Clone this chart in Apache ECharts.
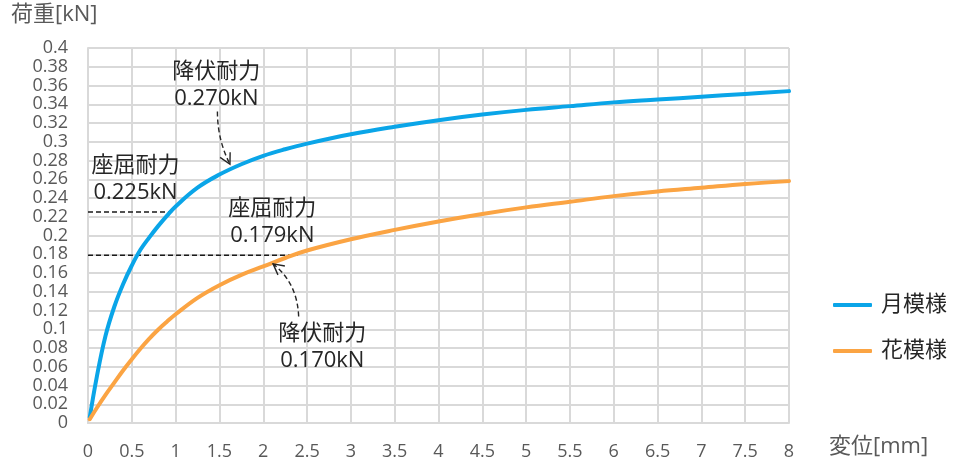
<!DOCTYPE html>
<html>
<head>
<meta charset="utf-8">
<script src="https://cdn.jsdelivr.net/npm/echarts@6/dist/echarts.min.js"></script>
<style>
  html, body { margin: 0; padding: 0; background: #ffffff; }
  #chart { width: 954px; height: 468px; }
</style>
</head>
<body>
<div id="chart"></div>
<script>
// Load–displacement curves for two specimens
const displacement = [0.02, 0.1, 0.2, 0.3, 0.4, 0.5, 0.6, 0.7, 0.8, 0.9, 1.0, 1.25, 1.5, 1.75, 2, 2.25, 2.5, 3, 3.5, 4, 4.5, 5, 5.5, 6, 6.5, 7, 7.5, 8];
const moonLoad   = [0.006, 0.049, 0.093, 0.124, 0.148, 0.168, 0.185, 0.198, 0.210, 0.221, 0.231, 0.251, 0.265, 0.276, 0.285, 0.292, 0.298, 0.308, 0.316, 0.323, 0.329, 0.334, 0.338, 0.342, 0.345, 0.348, 0.351, 0.354];
const flowerLoad = [0.004, 0.016, 0.030, 0.043, 0.056, 0.068, 0.0795, 0.090, 0.0995, 0.108, 0.116, 0.1335, 0.147, 0.158, 0.167, 0.176, 0.184, 0.196, 0.206, 0.215, 0.223, 0.230, 0.236, 0.242, 0.247, 0.251, 0.255, 0.258];

const seriesNames = ['月模様', '花模様'];
const seriesColors = ['#0AA5E8', '#FBA443'];

// Buckling strength guide lines: load level and where the dashed line meets the curve
const bucklingLoad = [0.225, 0.179];
const bucklingReach = [0.96, 2.39];

// Annotation texts, their anchor (data coords) and arrows (tail, control, tip in data coords)
const noteTexts = ['降伏耐力\n0.270kN', '座屈耐力\n0.225kN', '座屈耐力\n0.179kN', '降伏耐力\n0.170kN'];
const noteAnchors = [[1.465, 0.3603], [0.542, 0.2605], [2.104, 0.2141], [2.674, 0.0811]];
const arrowPaths = [
  [[1.477, 0.3323], [1.477, 0.3021], [1.62, 0.276]],
  [[2.404, 0.1135], [2.389, 0.1495], [2.112, 0.1697]]
];

const FONT = "'Open Sans', 'Noto Sans CJK JP', sans-serif";
const TICK_COLOR = '#595959';
const GRID_COLOR = '#d9d9d9';
const INK = '#262626';

const chart = echarts.init(document.getElementById('chart'), null, { renderer: 'canvas' });

const pairs = (xs, ys) => xs.map((x, i) => [x, ys[i]]);

const guideSeries = bucklingLoad.map((y, i) => ({
  type: 'line',
  silent: true,
  symbol: 'none',
  data: [[0, y], [bucklingReach[i], y]],
  lineStyle: { color: '#1a1a1a', width: 1.5, type: [5, 3] },
  z: 1
}));

const curve = (i, values) => ({
  name: seriesNames[i],
  type: 'line',
  symbol: 'none',
  smooth: 0.4,
  data: pairs(displacement, values),
  lineStyle: { color: seriesColors[i], width: 4, cap: 'round' },
  itemStyle: { color: seriesColors[i] },
  z: 3
});

chart.setOption({
  animation: false,
  backgroundColor: '#ffffff',
  grid: { left: 88, right: 165, top: 48, bottom: 45 },
  legend: {
    orient: 'vertical',
    left: 828,
    top: 289,
    itemWidth: 39,
    itemHeight: 4,
    itemGap: 24,
    icon: 'roundRect',
    data: seriesNames,
    textStyle: { fontFamily: FONT, fontSize: 22, color: INK, padding: [0, 0, 0, 4] }
  },
  xAxis: {
    type: 'value',
    min: 0,
    max: 8,
    interval: 0.5,
    axisLine: { show: true, lineStyle: { color: GRID_COLOR, width: 2 } },
    axisTick: { show: false },
    splitLine: { show: true, lineStyle: { color: GRID_COLOR, width: 2 } },
    axisLabel: { fontFamily: FONT, fontSize: 18, color: TICK_COLOR, margin: 20 }
  },
  yAxis: {
    type: 'value',
    min: 0,
    max: 0.4,
    interval: 0.02,
    axisLine: { show: true, lineStyle: { color: GRID_COLOR, width: 2 } },
    axisTick: { show: false },
    splitLine: { show: true, lineStyle: { color: GRID_COLOR, width: 2 } },
    axisLabel: {
      fontFamily: FONT, fontSize: 18, color: TICK_COLOR, margin: 20,
      formatter: v => String(parseFloat(v.toFixed(2)))
    }
  },
  series: guideSeries.concat([curve(0, moonLoad), curve(1, flowerLoad)])
});

// Annotations placed through the axes' own scales
const toPx = p => chart.convertToPixel({ xAxisIndex: 0, yAxisIndex: 0 }, p);
const graphics = [];

graphics.push({
  type: 'text', left: 11, top: 4,
  style: { text: '荷重[kN]', fontFamily: FONT, fontSize: 22, fill: TICK_COLOR }
});
graphics.push({
  type: 'text', left: 829, top: 436,
  style: { text: '変位[mm]', fontFamily: FONT, fontSize: 22, fill: TICK_COLOR }
});

noteTexts.forEach((t, i) => {
  const p = toPx(noteAnchors[i]);
  graphics.push({
    type: 'text', x: p[0], y: p[1], z: 10,
    style: {
      text: t, fontFamily: FONT, fontSize: 22, fill: INK,
      align: 'center', verticalAlign: 'middle', lineHeight: 27
    }
  });
});

arrowPaths.forEach(path => {
  const a = toPx(path[0]), c = toPx(path[1]), b = toPx(path[2]);
  graphics.push({
    type: 'bezierCurve', z: 10,
    shape: { x1: a[0], y1: a[1], cpx1: c[0], cpy1: c[1], x2: b[0], y2: b[1] },
    style: { stroke: INK, lineWidth: 1.4, lineDash: [5, 3], fill: null }
  });
  const dx = b[0] - c[0], dy = b[1] - c[1];
  const len = Math.hypot(dx, dy);
  const ux = -dx / len, uy = -dy / len;
  const ang = 28 * Math.PI / 180, arm = 12;
  const rot = s => [
    b[0] + arm * (ux * Math.cos(s * ang) - uy * Math.sin(s * ang)),
    b[1] + arm * (ux * Math.sin(s * ang) + uy * Math.cos(s * ang))
  ];
  graphics.push({
    type: 'polyline', z: 10,
    shape: { points: [rot(1), b, rot(-1)] },
    style: { stroke: INK, lineWidth: 1.4, fill: null }
  });
});

chart.setOption({ graphic: graphics });
</script>
</body>
</html>
